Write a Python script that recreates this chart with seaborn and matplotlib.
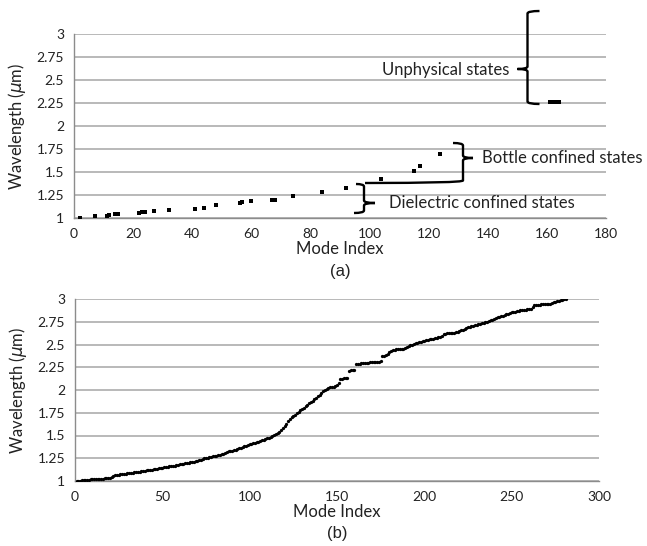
import numpy as np
import pandas as pd
import matplotlib
matplotlib.use("Agg")
import matplotlib.pyplot as plt
import matplotlib.transforms as mtransforms
from matplotlib.path import Path
from matplotlib.patches import PathPatch
import seaborn as sns

# ---------------- data ----------------
# Panel (a): sparse set of modes
a_index = [2, 7, 11, 12, 14, 15, 22, 23, 24, 27, 32, 41, 44, 48, 56, 57, 60,
           67, 68, 74, 84, 92, 104, 115, 117, 124,
           161, 162, 163, 164]
a_wavelength = [1.000, 1.018, 1.027, 1.032, 1.040, 1.047, 1.058, 1.065, 1.065,
                1.072, 1.087, 1.100, 1.110, 1.140, 1.160, 1.170, 1.180, 1.200,
                1.200, 1.235, 1.286, 1.330, 1.420, 1.507, 1.560, 1.700,
                2.264, 2.265, 2.265, 2.266]

# Panel (b): all modes
b_wavelength = [
    1.000, 1.003, 1.005, 1.007, 1.010, 1.012, 1.013, 1.015, 1.017, 1.018,
    1.020, 1.021, 1.022, 1.024, 1.025, 1.027, 1.029, 1.031, 1.034, 1.037,
    1.040, 1.060, 1.064, 1.067, 1.070, 1.072, 1.075, 1.078, 1.081, 1.084,
    1.087, 1.090, 1.093, 1.096, 1.098, 1.101, 1.104, 1.107, 1.110, 1.113,
    1.116, 1.119, 1.122, 1.125, 1.128, 1.131, 1.134, 1.138, 1.142, 1.146,
    1.149, 1.152, 1.156, 1.160, 1.163, 1.167, 1.170, 1.174, 1.178, 1.182,
    1.186, 1.190, 1.194, 1.198, 1.202, 1.206, 1.210, 1.214, 1.219, 1.224,
    1.229, 1.236, 1.243, 1.250, 1.254, 1.258, 1.262, 1.266, 1.270, 1.275,
    1.280, 1.285, 1.290, 1.296, 1.302, 1.310, 1.318, 1.325, 1.330, 1.334,
    1.340, 1.346, 1.353, 1.360, 1.368, 1.375, 1.383, 1.390, 1.396, 1.402,
    1.408, 1.414, 1.420, 1.427, 1.434, 1.441, 1.448, 1.455, 1.462, 1.469,
    1.477, 1.485, 1.494, 1.503, 1.515, 1.528, 1.543, 1.558, 1.577, 1.600,
    1.630, 1.660, 1.685, 1.700, 1.716, 1.730, 1.745, 1.760, 1.775, 1.790,
    1.805, 1.820, 1.836, 1.852, 1.868, 1.884, 1.900, 1.916, 1.932, 1.948,
    1.965, 1.985, 2.005, 2.015, 2.022, 2.028, 2.033, 2.038, 2.048, 2.060,
    2.075, 2.120, 2.126, 2.130, 2.133, 2.136, 2.210, 2.215, 2.218, 2.221,
    2.285, 2.288, 2.290, 2.293, 2.295, 2.297, 2.299, 2.301, 2.303, 2.305,
    2.307, 2.309, 2.311, 2.313, 2.316, 2.370, 2.378, 2.385, 2.392, 2.415,
    2.430, 2.440, 2.443, 2.446, 2.448, 2.450, 2.452, 2.455, 2.460, 2.470,
    2.480, 2.490, 2.500, 2.510, 2.515, 2.520, 2.525, 2.530, 2.535, 2.540,
    2.545, 2.550, 2.555, 2.560, 2.565, 2.570, 2.575, 2.580, 2.585, 2.595,
    2.615, 2.620, 2.622, 2.624, 2.626, 2.628, 2.630, 2.634, 2.640, 2.648,
    2.656, 2.664, 2.672, 2.680, 2.688, 2.695, 2.700, 2.706, 2.712, 2.718,
    2.724, 2.729, 2.734, 2.738, 2.742, 2.748, 2.756, 2.764, 2.772, 2.780,
    2.790, 2.798, 2.805, 2.812, 2.818, 2.825, 2.832, 2.840, 2.846, 2.852,
    2.858, 2.862, 2.866, 2.870, 2.874, 2.877, 2.880, 2.883, 2.886, 2.889,
    2.895, 2.910, 2.930, 2.934, 2.936, 2.938, 2.940, 2.942, 2.944, 2.946,
    2.948, 2.950, 2.955, 2.962, 2.970, 2.976, 2.982, 2.988, 2.993, 2.997, 3.000,
]
b_index = list(range(1, len(b_wavelength) + 1))

y_ticks = [1, 1.25, 1.5, 1.75, 2, 2.25, 2.5, 2.75, 3]
y_ticklabels = ["1", "1.25", "1.5", "1.75", "2", "2.25", "2.5", "2.75", "3"]
a_xticks = [0, 20, 40, 60, 80, 100, 120, 140, 160, 180]
b_xticks = [0, 50, 100, 150, 200, 250, 300]

annotations = ["Unphysical states", "Bottle confined states", "Dielectric confined states"]

# ---------------- style ----------------
sns.set_style("white")
plt.rcParams["font.family"] = ["Lato", "DejaVu Sans"]
plt.rcParams["mathtext.fontset"] = "dejavusans"

W, H = 647, 546
fig = plt.figure(figsize=(W / 100, H / 100), dpi=100)

grid_c = "#a6a6a6"
spine_c = "#8c8c8c"
txt_c = "#222222"


def px_axes(l, t, r, b):
    return fig.add_axes([l / W, 1 - b / H, (r - l) / W, (b - t) / H])


ax1 = px_axes(74, 34, 606, 218)
ax2 = px_axes(75, 299, 599, 481)

df_a = pd.DataFrame({"Mode Index": a_index, "Wavelength": a_wavelength})
df_b = pd.DataFrame({"Mode Index": b_index, "Wavelength": b_wavelength})

sns.scatterplot(data=df_a, x="Mode Index", y="Wavelength", ax=ax1,
                marker="s", s=5, color="black", linewidth=0, zorder=3)
sns.scatterplot(data=df_b, x="Mode Index", y="Wavelength", ax=ax2,
                marker="o", s=5.5, color="black", linewidth=0, zorder=3)

for ax, xt, xmax, lab in [(ax1, a_xticks, 180, "(a)"), (ax2, b_xticks, 300, "(b)")]:
    ax.set_xlim(0, xmax)
    ax.set_ylim(1, 3)
    ax.set_xticks(xt)
    ax.set_xticklabels([str(v) for v in xt])
    ax.set_yticks(y_ticks)
    ax.set_yticklabels(y_ticklabels)
    ax.yaxis.grid(True, color=grid_c, linewidth=1.1)
    ax.xaxis.grid(False)
    ax.set_axisbelow(True)
    for s in ["top", "right"]:
        ax.spines[s].set_visible(False)
    for s in ["left", "bottom"]:
        ax.spines[s].set_color(spine_c)
        ax.spines[s].set_linewidth(1.0)
    ax.tick_params(axis="both", direction="out", length=4, width=1,
                   color=spine_c, labelsize=10, labelcolor=txt_c, pad=3)
    ax.set_xlabel("Mode Index", fontsize=12, color=txt_c, labelpad=1)
    ax.set_ylabel(r"Wavelength ($\mu$m)", fontsize=12, color=txt_c, labelpad=6)
    ax.text(0.5, -0.29, lab, transform=ax.transAxes, ha="center", va="center",
            fontsize=12, color=txt_c, family=["Liberation Sans", "DejaVu Sans"])

# ---------------- braces (annotation, pixel coords) ----------------
pxT = mtransforms.Affine2D().scale(1 / W, -1 / H).translate(0, 1) + fig.transFigure


def brace(x0, ytop, ybot, d, htop, hbot, ytip, tip, r=2.5):
    # d=+1: hooks to the right, tip to the left; d=-1 the opposite
    codes = [Path.MOVETO, Path.CURVE3, Path.CURVE3,
             Path.LINETO, Path.CURVE3, Path.CURVE3,
             Path.MOVETO, Path.CURVE3, Path.CURVE3,
             Path.LINETO, Path.CURVE3, Path.CURVE3]
    verts = [(x0 + d * htop, ytop), (x0, ytop), (x0, ytop + r),
             (x0, ytip - r), (x0, ytip), (x0 - d * tip, ytip),
             (x0 - d * tip, ytip), (x0, ytip), (x0, ytip + r),
             (x0, ybot - r), (x0, ybot), (x0 + d * hbot, ybot)]
    p = PathPatch(Path(verts, codes), transform=pxT, fill=False,
                  edgecolor="black", linewidth=1.7, clip_on=False,
                  capstyle="butt", joinstyle="round")
    fig.add_artist(p)


brace(527.5, 11, 104, +1, 12, 12, 69, 10)        # unphysical
brace(463, 143, 183, -1, 10, 98, 158, 10)        # bottle
brace(364, 184, 213, -1, 8, 10, 203, 11)         # dielectric


def ptext(x, y, s, ha):
    fig.text(x / W, 1 - y / H, s, ha=ha, va="center", fontsize=12, color=txt_c)


ptext(509, 70, annotations[0], "right")
ptext(482, 158, annotations[1], "left")
ptext(389, 203, annotations[2], "left")

fig.savefig("out.png", dpi=100)
